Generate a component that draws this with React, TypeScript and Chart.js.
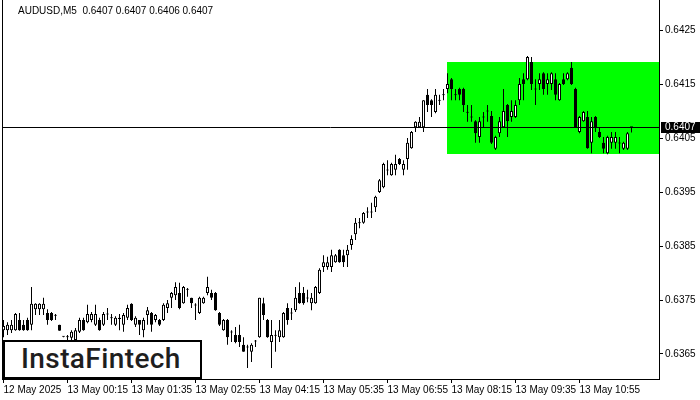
import React, { useEffect, useRef } from "react";
import { Chart, registerables } from "chart.js";

Chart.register(...registerables);

// ---- data (AUDUSD M5, one candle per 5 minutes, first candle 12 May 22:55) ----
const opens = [
  0.63694, 0.63694, 0.63694, 0.63694, 0.63713, 0.63704, 0.63713, 0.63704, 0.63733, 0.63733,
  0.63733, 0.63726, 0.63726, 0.63722, 0.63704, 0.63683, 0.63681, 0.6368, 0.63676, 0.63691,
  0.63713, 0.63709, 0.63713, 0.63704, 0.63713, 0.63704, 0.63724, 0.63717, 0.63704, 0.63717,
  0.63704, 0.63717, 0.63743, 0.63704, 0.63713, 0.63694, 0.63722, 0.63726, 0.63713, 0.63713,
  0.63713, 0.63735, 0.63754, 0.63759, 0.63763, 0.63744, 0.6377, 0.63754, 0.63741, 0.63726,
  0.63744, 0.63763, 0.63763, 0.63763, 0.63726, 0.63694, 0.63713, 0.63691, 0.63685, 0.63685,
  0.63667, 0.63663, 0.63654, 0.63674, 0.63681, 0.63744, 0.63713, 0.63672, 0.63685, 0.63681,
  0.63681, 0.63735, 0.63726, 0.63731, 0.63763, 0.63763, 0.63754, 0.63744, 0.63744, 0.63763,
  0.63811, 0.63811, 0.63811, 0.6382, 0.63843, 0.63833, 0.63833, 0.63852, 0.63872, 0.63893,
  0.63893, 0.63913, 0.63913, 0.63922, 0.6395, 0.63959, 0.63991, 0.63981, 0.63991, 0.64011,
  0.63991, 0.64011, 0.64031, 0.6407, 0.6407, 0.6407, 0.6413, 0.6412, 0.64098, 0.6412,
  0.6413, 0.64141, 0.64159, 0.6413, 0.64141, 0.64141, 0.64098, 0.64089, 0.64081, 0.64052,
  0.64089, 0.641, 0.64091, 0.6403, 0.64059, 0.6407, 0.64111, 0.64089, 0.64089, 0.6412,
  0.64159, 0.64159, 0.64191, 0.64141, 0.6415, 0.6417, 0.6415, 0.6415, 0.64159, 0.6412,
  0.64159, 0.64159, 0.6418, 0.64141, 0.64061, 0.64081, 0.64089, 0.64041, 0.64089, 0.64061,
  0.64041, 0.64022, 0.64041, 0.64041, 0.64041, 0.6403, 0.6403, 0.6407,
];
const highs = [
  0.63713, 0.63709, 0.63713, 0.63726, 0.63726, 0.63713, 0.63717, 0.63774, 0.63744, 0.63744,
  0.63754, 0.63733, 0.63728, 0.63724, 0.63704, 0.63683, 0.63685, 0.63694, 0.63698, 0.63717,
  0.63717, 0.63741, 0.63728, 0.63741, 0.63717, 0.63728, 0.63735, 0.63724, 0.6372, 0.63724,
  0.63726, 0.63741, 0.63744, 0.6372, 0.63713, 0.63717, 0.63737, 0.63728, 0.63724, 0.63715,
  0.63744, 0.6375, 0.63765, 0.63783, 0.63782, 0.63776, 0.63772, 0.63754, 0.63744, 0.63756,
  0.63756, 0.63793, 0.63769, 0.63765, 0.63728, 0.63715, 0.63715, 0.63694, 0.637, 0.63704,
  0.63681, 0.63667, 0.6367, 0.63676, 0.63754, 0.63754, 0.63715, 0.63713, 0.63694, 0.63713,
  0.63728, 0.63744, 0.63735, 0.63774, 0.63783, 0.63774, 0.63769, 0.63763, 0.63776, 0.63809,
  0.63833, 0.6383, 0.63843, 0.63835, 0.63844, 0.63843, 0.63852, 0.6387, 0.63902, 0.63902,
  0.63913, 0.63922, 0.6393, 0.63943, 0.63974, 0.64004, 0.64009, 0.64004, 0.64019, 0.64013,
  0.64009, 0.6405, 0.64063, 0.64081, 0.64089, 0.6412, 0.64141, 0.64122, 0.64141, 0.6413,
  0.64141, 0.6417, 0.64161, 0.64141, 0.64143, 0.64143, 0.64111, 0.64111, 0.64083, 0.64089,
  0.64098, 0.64111, 0.641, 0.64054, 0.64089, 0.64141, 0.64113, 0.6412, 0.6412, 0.64161,
  0.6417, 0.64202, 0.642, 0.64159, 0.6417, 0.64172, 0.6417, 0.64172, 0.6417, 0.64152,
  0.6417, 0.64172, 0.64191, 0.64143, 0.64091, 0.641, 0.641, 0.64089, 0.64091, 0.6407,
  0.64052, 0.64054, 0.64061, 0.64061, 0.64052, 0.64043, 0.64061, 0.6407,
];
const lows = [
  0.63681, 0.63685, 0.63689, 0.63693, 0.63693, 0.63693, 0.63693, 0.63694, 0.63722, 0.63722,
  0.63722, 0.63704, 0.63711, 0.63713, 0.63693, 0.63681, 0.63676, 0.63672, 0.63674, 0.63689,
  0.63693, 0.63707, 0.63709, 0.63702, 0.63693, 0.63702, 0.63713, 0.63704, 0.63702, 0.63694,
  0.63691, 0.63713, 0.63711, 0.637, 0.63685, 0.63681, 0.63704, 0.63691, 0.63709, 0.63702,
  0.63711, 0.63726, 0.63735, 0.6375, 0.63733, 0.63743, 0.63756, 0.63735, 0.63713, 0.63724,
  0.63743, 0.63759, 0.6375, 0.6373, 0.63702, 0.63693, 0.63667, 0.63672, 0.6367, 0.63663,
  0.63654, 0.63624, 0.63635, 0.63663, 0.6368, 0.63713, 0.6368, 0.63624, 0.63654, 0.63672,
  0.6368, 0.63704, 0.63713, 0.63728, 0.63743, 0.63741, 0.63746, 0.63731, 0.63743, 0.63761,
  0.63802, 0.63806, 0.63802, 0.63819, 0.63819, 0.63811, 0.63811, 0.63843, 0.63861, 0.63883,
  0.63891, 0.63902, 0.63902, 0.63913, 0.63948, 0.63957, 0.63981, 0.6398, 0.63981, 0.64,
  0.63981, 0.63991, 0.6403, 0.64061, 0.64069, 0.64061, 0.64098, 0.64089, 0.64096, 0.64111,
  0.6412, 0.64133, 0.6412, 0.6412, 0.6412, 0.64098, 0.6408, 0.6408, 0.64041, 0.64041,
  0.6407, 0.6408, 0.64039, 0.64028, 0.64052, 0.64069, 0.64052, 0.6408, 0.64087, 0.64111,
  0.6412, 0.64157, 0.64139, 0.64111, 0.64139, 0.6413, 0.6413, 0.64139, 0.6412, 0.64119,
  0.64148, 0.64157, 0.64148, 0.64069, 0.64059, 0.6408, 0.6403, 0.64022, 0.64061, 0.6405,
  0.64022, 0.6402, 0.6403, 0.6403, 0.64022, 0.64028, 0.64028, 0.6406,
];
const closes = [
  0.63702, 0.63704, 0.63704, 0.63724, 0.63694, 0.63694, 0.63694, 0.63743, 0.63743, 0.63743,
  0.63743, 0.63713, 0.63713, 0.63721, 0.63693, 0.63682, 0.63683, 0.63691, 0.63694, 0.63713,
  0.63694, 0.63724, 0.63724, 0.63724, 0.63694, 0.63724, 0.63723, 0.63716, 0.63717, 0.63715,
  0.63722, 0.63735, 0.63713, 0.63717, 0.63704, 0.63713, 0.63731, 0.63704, 0.63722, 0.63704,
  0.63741, 0.63744, 0.63763, 0.63774, 0.63735, 0.63774, 0.63769, 0.63744, 0.6374, 0.63754,
  0.63754, 0.63774, 0.63754, 0.63731, 0.63704, 0.63713, 0.63681, 0.6369, 0.63672, 0.63672,
  0.63654, 0.63662, 0.63667, 0.63673, 0.63754, 0.63722, 0.63681, 0.63685, 0.63684, 0.63694,
  0.63726, 0.63713, 0.63725, 0.63754, 0.63744, 0.63744, 0.63753, 0.63754, 0.63774, 0.63806,
  0.6382, 0.6382, 0.63833, 0.63833, 0.6382, 0.6382, 0.63843, 0.63863, 0.63893, 0.63892,
  0.63911, 0.63912, 0.63912, 0.63941, 0.63972, 0.64002, 0.6399, 0.64002, 0.64002, 0.64002,
  0.64002, 0.64041, 0.64061, 0.6408, 0.6408, 0.6412, 0.64111, 0.64111, 0.6413, 0.64119,
  0.64129, 0.6415, 0.64141, 0.64129, 0.6413, 0.64111, 0.64097, 0.64088, 0.64059, 0.64081,
  0.64088, 0.64099, 0.64041, 0.64052, 0.64081, 0.641, 0.64081, 0.641, 0.64111, 0.6415,
  0.6415, 0.642, 0.6415, 0.6414, 0.64159, 0.64141, 0.64159, 0.6417, 0.6413, 0.6415,
  0.6415, 0.6417, 0.6415, 0.6407, 0.64089, 0.64098, 0.64031, 0.64081, 0.6407, 0.64052,
  0.6403, 0.64052, 0.64052, 0.64052, 0.6404, 0.64041, 0.64059, 0.6407,
];

const xTickIdx = [0, 16, 32, 48, 64, 80, 96, 112, 128, 144];
const xTickLabels = [
  "12 May 2025",
  "13 May 00:15",
  "13 May 01:35",
  "13 May 02:55",
  "13 May 04:15",
  "13 May 05:35",
  "13 May 06:55",
  "13 May 08:15",
  "13 May 09:35",
  "13 May 10:55",
];
const yTicks = [0.6365, 0.6375, 0.6385, 0.6395, 0.6405, 0.6415, 0.6425];
const bidPrice = 0.6407;
const zoneStartIdx = 111;
const zoneHigh = 0.64191;
const zoneLow = 0.6402;
const headerText = "AUDUSD,M5  0.6407 0.6407 0.6406 0.6407";
const logoText = "InstaFintech";

const X_MIN = -0.375;
const X_MAX = 163.875;
const Y_MIN = 0.636037;
const Y_MAX = 0.643056;

const FONT = "Liberation Sans";

const overlayPlugin = {
  id: "mtOverlay",
  beforeDatasetsDraw(chart: any) {
    const { ctx, chartArea: a, scales } = chart;
    const x = scales.x;
    const y = scales.y;
    ctx.save();
    const zx = Math.floor(x.getPixelForValue(zoneStartIdx));
    const zt = Math.round(y.getPixelForValue(zoneHigh));
    const zb = Math.round(y.getPixelForValue(zoneLow));
    ctx.fillStyle = "#00ff00";
    ctx.fillRect(zx, zt, a.right - zx, zb - zt);
    ctx.restore();
  },
  afterDatasetsDraw(chart: any) {
    const { ctx, chartArea: a, scales } = chart;
    const y = scales.y;
    ctx.save();
    const by = Math.round(y.getPixelForValue(bidPrice)) + 0.5;
    ctx.strokeStyle = "#000";
    ctx.lineWidth = 1;
    ctx.beginPath();
    ctx.moveTo(a.left, by);
    ctx.lineTo(a.right, by);
    ctx.stroke();
    ctx.restore();
  },
  afterDraw(chart: any) {
    const { ctx, chartArea: a, scales } = chart;
    const y = scales.y;
    ctx.save();
    ctx.strokeStyle = "#000";
    ctx.lineWidth = 1;
    ctx.beginPath();
    ctx.moveTo(a.left + 0.5, a.top);
    ctx.lineTo(a.left + 0.5, a.bottom);
    ctx.stroke();
    const by = Math.round(y.getPixelForValue(bidPrice));
    ctx.fillStyle = "#000";
    ctx.fillRect(a.right + 2, by - 5, chart.width - a.right - 2, 11);
    ctx.fillStyle = "#fff";
    ctx.font = `10px "${FONT}"`;
    ctx.textBaseline = "middle";
    ctx.textAlign = "left";
    ctx.fillText(bidPrice.toFixed(4), a.right + 6, by + 0.5);
    ctx.restore();
  },
};

export default function App() {
  const ref = useRef<HTMLCanvasElement>(null);

  useEffect(() => {
    const bodyData = opens.map((o, i) => ({ x: i, y: [o, closes[i]] }));
    const wickData = lows.map((l, i) => ({ x: i, y: [l, highs[i]] }));
    const bodyColors = opens.map((o, i) => (closes[i] >= o ? "#ffffff" : "#000000"));

    const tickFont = { family: FONT, size: 10 };
    const chart = new Chart(ref.current as HTMLCanvasElement, {
      type: "bar",
      data: {
        datasets: [
          {
            label: "body",
            data: bodyData as any,
            backgroundColor: bodyColors,
            borderColor: "#000000",
            borderWidth: 1,
            borderSkipped: false,
            barThickness: 3,
            maxBarThickness: 3,
            minBarLength: 1,
            grouped: false,
            inflateAmount: 0,
            order: 0,
          } as any,
          {
            label: "wick",
            data: wickData as any,
            backgroundColor: "#000000",
            borderWidth: 0,
            barThickness: 1,
            maxBarThickness: 1,
            grouped: false,
            inflateAmount: 0,
            order: 1,
          } as any,
        ],
      },
      options: {
        animation: false,
        responsive: false,
        devicePixelRatio: 1,
        events: [],
        layout: { padding: { left: 2, top: 0, right: 0, bottom: 0 } },
        plugins: { legend: { display: false }, tooltip: { enabled: false } },
        scales: {
          x: {
            type: "linear",
            min: X_MIN,
            max: X_MAX,
            offset: false,
            grid: {
              display: true,
              drawOnChartArea: false,
              drawTicks: true,
              tickLength: 4,
              color: "#000",
              offset: false,
            },
            border: { display: true, color: "#000", width: 1 },
            ticks: {
              autoSkip: false,
              maxRotation: 0,
              minRotation: 0,
              align: "start",
              padding: 1,
              color: "#000",
              font: tickFont,
              callback: (v: any) => {
                const k = xTickIdx.indexOf(Number(v));
                return k >= 0 ? xTickLabels[k] : "";
              },
            },
            afterBuildTicks: (s: any) => {
              s.ticks = xTickIdx.map((v) => ({ value: v }));
            },
            afterFit: (s: any) => {
              s.height = 21;
              s.paddingLeft = 0;
              s.paddingRight = 0;
            },
          } as any,
          y: {
            type: "linear",
            position: "right",
            min: Y_MIN,
            max: Y_MAX,
            beginAtZero: false,
            grid: {
              display: true,
              drawOnChartArea: false,
              drawTicks: true,
              tickLength: 4,
              color: "#000",
            },
            border: { display: true, color: "#000", width: 1 },
            ticks: {
              padding: 2,
              color: "#000",
              font: tickFont,
              callback: (v: any) => Number(v).toFixed(4),
            },
            afterBuildTicks: (s: any) => {
              s.ticks = yTicks.map((v) => ({ value: v }));
            },
            afterFit: (s: any) => {
              s.width = 41;
              s.paddingTop = 0;
              s.paddingBottom = 0;
            },
          } as any,
        },
      },
      plugins: [overlayPlugin],
    });
    return () => chart.destroy();
  }, []);

  return (
    <div
      style={{
        position: "fixed",
        left: 0,
        top: 0,
        width: 700,
        height: 400,
        background: "#ffffff",
        overflow: "hidden",
      }}
    >
      <canvas ref={ref} width={700} height={400} style={{ display: "block" }} />
      <div
        style={{
          position: "absolute",
          left: 18,
          top: 5,
          fontFamily: FONT,
          fontSize: 10,
          lineHeight: "12px",
          color: "#000",
          whiteSpace: "pre",
        }}
      >
        {headerText}
      </div>
      <div
        style={{
          position: "absolute",
          left: 3,
          top: 340,
          width: 199,
          height: 39,
          boxSizing: "border-box",
          border: "2px solid #000",
          background: "#ffffff",
        }}
      />
      <div
        style={{
          position: "absolute",
          left: 21,
          top: 345,
          fontFamily: "Roboto",
          fontWeight: 500,
          fontSize: 28,
          lineHeight: "28px",
          letterSpacing: 0.4,
          color: "#1e1e1e",
          whiteSpace: "pre",
        }}
      >
        {logoText}
      </div>
    </div>
  );
}
